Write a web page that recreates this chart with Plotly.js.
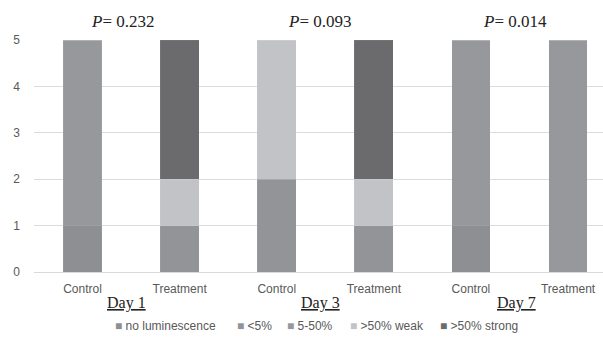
<!DOCTYPE html>
<html><head><meta charset="utf-8">
<script src="https://cdn.plot.ly/plotly-3.0.1.min.js"></script>
<style>html,body{margin:0;padding:0;background:#fff}#c{width:603px;height:337px}</style>
</head><body><div id="c"></div>
<script>
const categories = ["Control", "Treatment", "Control ", "Treatment ", "Control  ", "Treatment  "];
const tickLabels = ["Control", "Treatment", "Control", "Treatment", "Control", "Treatment"];
const seriesNames = ["no luminescence", "<5%", "5-50%", ">50% weak", ">50% strong"];
const noLuminescence = [1, 0, 0, 0, 1, 0];
const under5 = [0, 1, 2, 1, 0, 0];
const from5to50 = [4, 0, 0, 0, 4, 5];
const over50Weak = [0, 1, 3, 1, 0, 0];
const over50Strong = [0, 3, 0, 3, 0, 0];
const dayLabels = ["Day 1", "Day 3", "Day 7"];
const pValues = ["0.232", "0.093", "0.014"];

const colors = ["#8e8f93", "#939498", "#97989c", "#c2c3c6", "#6b6b6e"];
const values = [noLuminescence, under5, from5to50, over50Weak, over50Strong];

const traces = seriesNames.map((n, i) => ({
  type: "bar", name: n, x: categories, y: values[i],
  marker: {color: colors[i], line: {color: "rgba(255,255,255,0.12)", width: 0.5}},
  width: 0.4, hoverinfo: "skip", showlegend: false
}));

const ann = [];
const dayX = [0.45, 2.45, 4.47];
const pX = [0.41, 2.44, 4.45];
dayLabels.forEach((d, k) => {
  ann.push({xref: "x", yref: "paper", x: dayX[k], y: -0.134, yanchor: "middle", text: "<u>" + d + "</u>",
    showarrow: false, font: {family: "Liberation Serif", size: 16, color: "#222"}});
  ann.push({xref: "x", yref: "paper", x: pX[k], y: 1.0, yanchor: "bottom", yshift: 7,
    text: "<i>P</i>= " + pValues[k], showarrow: false,
    font: {family: "Liberation Serif", size: 17, color: "#222"}});
});
const legX = [0.139, 0.353, 0.441, 0.552, 0.710];
seriesNames.forEach((n, i) => {
  ann.push({xref: "paper", yref: "paper", x: legX[i], xanchor: "left", y: -0.233, yanchor: "middle",
    text: '<span style="color:' + colors[i] + '">■</span> ' + n.replace("<", "&lt;").replace(">", "&gt;"),
    showarrow: false, font: {family: "Liberation Sans", size: 12, color: "#595959"}});
});

const layout = {
  width: 603, height: 337,
  margin: {l: 34, r: 0, t: 40, b: 65},
  barmode: "stack",
  paper_bgcolor: "#fff", plot_bgcolor: "#fff",
  font: {family: "Liberation Sans", size: 12, color: "#595959"},
  xaxis: {type: "category", range: [-0.5, 5.36], tickvals: categories, ticktext: tickLabels,
    showgrid: false, showline: true, linecolor: "#d9d9d9", ticks: "", ticklabelstandoff: 6,
    tickfont: {size: 12, color: "#595959"}},
  yaxis: {range: [0, 5], dtick: 1, showgrid: true, gridcolor: "#dcdcdc", zeroline: false,
    showline: false, ticks: "", ticklabelstandoff: 13, tickfont: {size: 12, color: "#595959"}},
  showlegend: false,
  annotations: ann
};
Plotly.newPlot("c", traces, layout, {displayModeBar: false, staticPlot: true});
</script></body></html>
